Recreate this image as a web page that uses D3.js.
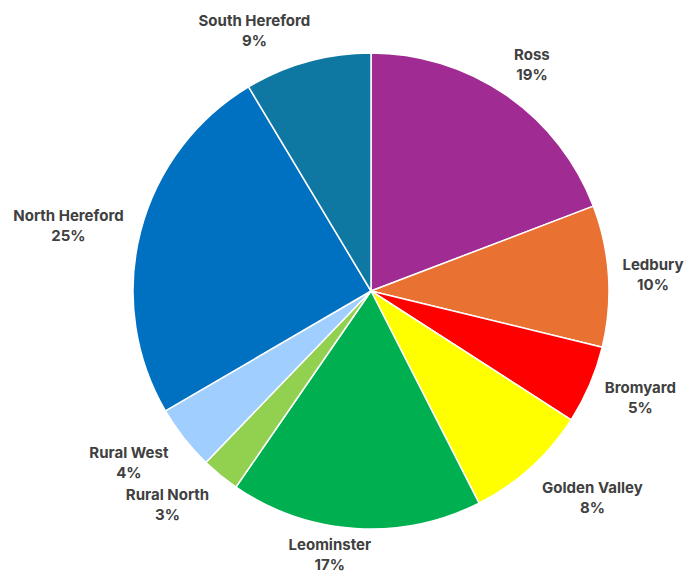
<!DOCTYPE html>
<html>
<head>
<meta charset="utf-8">
<script src="https://cdn.jsdelivr.net/npm/d3@7/dist/d3.min.js"></script>
<style>
  html, body { margin: 0; padding: 0; background: #ffffff; }
  svg text { font-family: "Inter", "Open Sans", "Liberation Sans", sans-serif; }
</style>
</head>
<body>
<svg id="chart" width="684" height="571"></svg>
<script>
// Share of cases by locality (percent), clockwise from 12 o'clock
const areas  = ["Ross", "Ledbury", "Bromyard", "Golden Valley", "Leominster",
                "Rural North", "Rural West", "North Hereford", "South Hereford"];
const shares = [19.2, 9.6, 5.3, 8.4, 17.1, 2.6, 4.4, 24.8, 8.6];
const colors = ["#A02B93", "#E97132", "#FF0000", "#FFFF00", "#00B050",
                "#92D050", "#A0CFFF", "#0070C0", "#0E77A2"];

// Layout
const width = 684, height = 571;
const cx = 371, cy = 291, radius = 238;
const labelGap = 12;
// Hand adjustments so each label sits where it reads best
const labelNudge = {
  "Ross": [9, -5], "Ledbury": [2, 0], "Bromyard": [7, 0], "Golden Valley": [20, 7],
  "Leominster": [-22, -5], "Rural North": [-19, 5], "Rural West": [-14, 5],
  "North Hereford": [-7, 2], "South Hereford": [-35, -1]
};

const data = areas.map((name, i) => ({ name, value: shares[i], color: colors[i] }));
const total = d3.sum(shares);

const svg = d3.select("#chart");
const g = svg.append("g").attr("transform", `translate(${cx},${cy})`);

const pie = d3.pie().value(d => d.value).sort(null);
const arc = d3.arc().innerRadius(0).outerRadius(radius);
const arcs = pie(data);

g.selectAll("path.slice")
  .data(arcs)
  .join("path")
  .attr("class", "slice")
  .attr("d", arc)
  .attr("fill", d => d.data.color)
  .attr("stroke", "#ffffff")
  .attr("stroke-width", 1.5)
  .attr("stroke-linejoin", "round");

const pct = v => Math.round(v / total * 100) + "%";

const labels = g.selectAll("g.label")
  .data(arcs)
  .join("g")
  .attr("class", "label");

labels.each(function(d) {
  const lg = d3.select(this);
  const t = lg.append("text")
    .attr("text-anchor", "middle")
    .attr("fill", "#404040")
    .attr("font-size", 15)
    .attr("font-weight", 700);
  t.append("tspan").attr("x", 0).attr("y", -4).text(d.data.name);
  t.append("tspan").attr("x", 0).attr("y", 16).text(pct(d.data.value));

  const bb = t.node().getBBox();
  const mid = (d.startAngle + d.endAngle) / 2;
  const r = radius + labelGap;
  const px = r * Math.sin(mid), py = -r * Math.cos(mid);
  const ox = (bb.width / 2) * Math.sin(mid);
  const oy = -(bb.height / 2) * Math.cos(mid);
  const bcx = bb.x + bb.width / 2, bcy = bb.y + bb.height / 2;
  const [nx, ny] = labelNudge[d.data.name] || [0, 0];
  lg.attr("transform", `translate(${px + ox - bcx + nx},${py + oy - bcy + ny})`);
});
</script>
</body>
</html>
